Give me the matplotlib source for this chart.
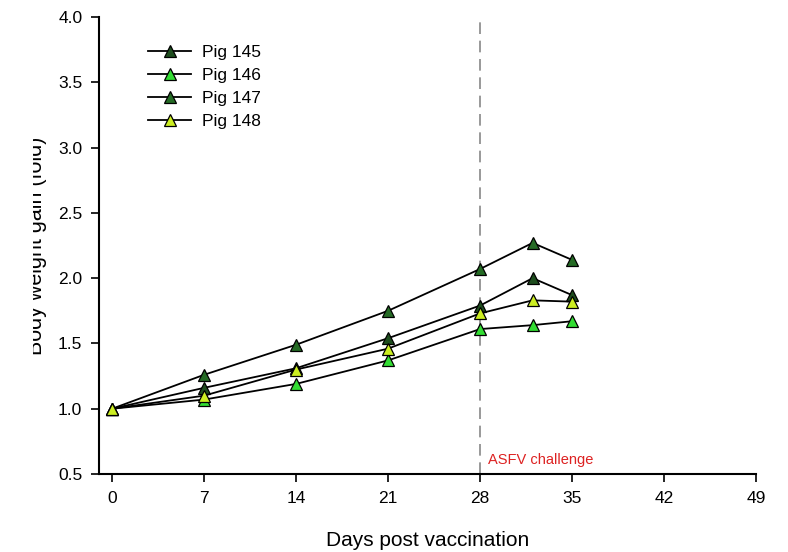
import matplotlib
matplotlib.use("Agg")
import matplotlib.pyplot as plt
from matplotlib.transforms import Bbox, TransformedBbox

plt.rcParams['font.family'] = ['Liberation Sans', 'DejaVu Sans']

# Days post vaccination
days = [0, 7, 14, 21, 28, 32, 35]

# Body weight gain (fold) per pig
pig145 = [1.00, 1.16, 1.31, 1.54, 1.79, 2.00, 1.87]
pig146 = [1.00, 1.07, 1.19, 1.37, 1.61, 1.64, 1.67]
pig147 = [1.00, 1.26, 1.49, 1.75, 2.07, 2.27, 2.14]
pig148 = [1.00, 1.10, 1.30, 1.46, 1.73, 1.83, 1.82]

labels = ['Pig 145', 'Pig 146', 'Pig 147', 'Pig 148']
colors = ['#1e4d1e', '#33dd33', '#256b25', '#ccee22']
series = [pig145, pig146, pig147, pig148]

xticks = [0, 7, 14, 21, 28, 35, 42, 49]
yticks = [0.5, 1.0, 1.5, 2.0, 2.5, 3.0, 3.5, 4.0]
challenge_day = 28

fig = plt.figure(figsize=(7.88, 5.52), dpi=100)
ax = fig.add_axes([99/788, 78/552, 657/788, 457/552])

ax.axvline(challenge_day, color='#888888', lw=1.2, ls=(0, (7, 4)), zorder=1)

handles = []
for vals, lab, col in zip(series, labels, colors):
    h, = ax.plot(days, vals, color='black', lw=1.3, marker='^', ms=8.5,
                 markerfacecolor=col, markeredgecolor='black', mew=0.9,
                 label=lab, zorder=3)
    handles.append(h)

ax.text(challenge_day + 0.6, 0.61, 'ASFV challenge', color='#dd2222',
        fontsize=10.5, va='center', ha='left')

ax.set_xlim(-1.0, 49)
ax.set_ylim(0.5, 4.0)
ax.set_xticks(xticks)
ax.set_yticks(yticks)
ax.set_yticklabels(['%.1f' % v for v in yticks])
ax.tick_params(direction='out', length=6, width=1.2, labelsize=12.5, pad=6)
for s in ['top', 'right']:
    ax.spines[s].set_visible(False)
for s in ['left', 'bottom']:
    ax.spines[s].set_linewidth(1.5)

ax.set_xlabel('Days post vaccination', fontsize=15, labelpad=18)

# y label is cut off on the left in the original
yl = fig.text(47/788, 0.555, 'Body weight gain (fold)', rotation=90,
              fontsize=15.5, ha='right', va='center')
yl.set_clip_box(TransformedBbox(Bbox([[33/788, 0], [1, 1]]), fig.transFigure))
yl.set_clip_on(True)

ax.legend(handles=handles, loc='upper left', frameon=False, fontsize=12.5,
          bbox_to_anchor=(148/788, 1 - 45/552), bbox_transform=fig.transFigure,
          borderaxespad=0, borderpad=0, handlelength=2.5, handletextpad=0.6,
          labelspacing=0.45)

plt.savefig('out.png', dpi=100)
